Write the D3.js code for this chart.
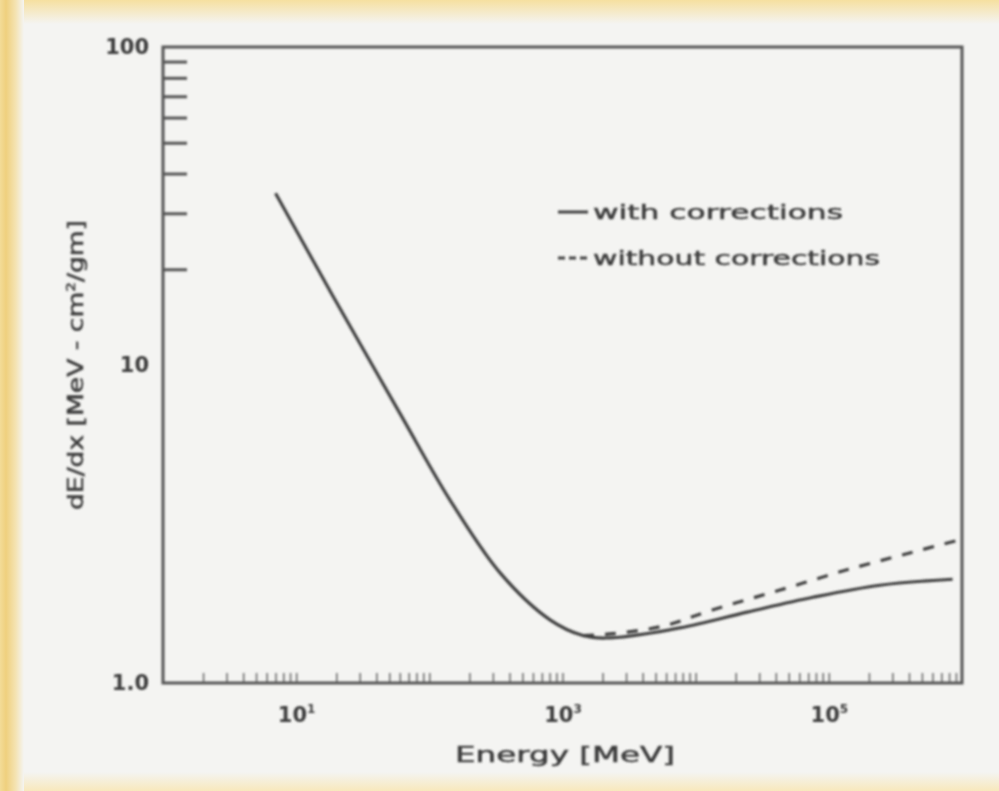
<!DOCTYPE html>
<html>
<head>
<meta charset="utf-8">
<script src="https://cdn.jsdelivr.net/npm/d3@7"></script>
<style>
body { margin: 0; background: #f4f4f2; }
svg text { font-family: "DejaVu Sans", sans-serif; fill: #3c3c3c; }
</style>
</head>
<body>
<svg id="chart" width="999" height="791"></svg>
<script>
// values
let energyWith = [7, 19, 60, 143, 340, 806, 1425, 2100, 7600, 24300, 76000, 242000, 850000],
    dedxWith = [34.7, 16.4, 7.06, 3.76, 2.22, 1.58, 1.41, 1.385, 1.49, 1.67, 1.86, 2.03, 2.12],
    energyWithout = [1425, 2400, 5680, 13500, 43000, 137000, 428000, 900000],
    dedxWithout = [1.41, 1.43, 1.51, 1.70, 1.96, 2.27, 2.58, 2.80],
    xLabels = [10, 1000, 100000],
    yLabels = [1, 10, 100],
    legendLabels = ['with corrections', 'without corrections'];

let svg = d3.select('#chart'),
    margin = {top: 47, right: 37, bottom: 108, left: 163},
    width = 999 - margin.left - margin.right,
    height = 791 - margin.top - margin.bottom;

// scan-like paper edges
let defs = svg.append('defs');
let lg = defs.append('linearGradient').attr('id', 'edgeL');
lg.append('stop').attr('offset', '0%').attr('stop-color', '#f3dc98');
lg.append('stop').attr('offset', '25%').attr('stop-color', '#efd07e');
lg.append('stop').attr('offset', '65%').attr('stop-color', '#f4e3b2');
lg.append('stop').attr('offset', '100%').attr('stop-color', '#f4f4f2', 0);
let tg = defs.append('linearGradient').attr('id', 'edgeT').attr('x2', 0).attr('y2', 1);
tg.append('stop').attr('offset', '0%').attr('stop-color', '#f6e0a0');
tg.append('stop').attr('offset', '100%').attr('stop-color', '#f4f4f2');
let bg = defs.append('linearGradient').attr('id', 'edgeB').attr('x2', 0).attr('y2', 1);
bg.append('stop').attr('offset', '0%').attr('stop-color', '#f4f4f2');
bg.append('stop').attr('offset', '100%').attr('stop-color', '#f8e8bc');
defs.append('filter').attr('id', 'soft')
    .append('feGaussianBlur').attr('stdDeviation', 0.8);

svg.append('rect').attr('width', 999).attr('height', 791).attr('fill', '#f4f4f2');
svg.append('rect').attr('width', 999).attr('height', 24).attr('fill', 'url(#edgeT)');
svg.append('rect').attr('y', 772).attr('width', 999).attr('height', 19).attr('fill', 'url(#edgeB)');
svg.append('rect').attr('width', 24).attr('height', 791).attr('fill', 'url(#edgeL)');

let g = svg.append('g')
    .attr('transform', `translate(${margin.left},${margin.top})`)
    .attr('filter', 'url(#soft)');

let x = d3.scaleLog().domain([1, 1e6]).range([0, width]),
    y = d3.scaleLog().domain([1, 100]).range([height, 0]);

// minor ticks, pointing inwards
let xMinor = g.append('g')
    .attr('transform', `translate(0,${height})`)
    .call(d3.axisBottom(x).tickValues(x.ticks().filter(d => d > 1 && d < 1e6)).tickSize(-10).tickFormat(''));
xMinor.select('.domain').remove();
xMinor.selectAll('line').attr('stroke', '#666').attr('stroke-width', 1.5);

let yMinor = g.append('g')
    .call(d3.axisLeft(y).tickValues(y.ticks().filter(d => d > 10 && d < 100)).tickSize(-24).tickFormat(''));
yMinor.select('.domain').remove();
yMinor.selectAll('line').attr('stroke', '#555').attr('stroke-width', 3);

// labels
let xAxis = g.append('g')
    .attr('transform', `translate(0,${height})`)
    .call(d3.axisBottom(x).tickValues(xLabels).tickSize(0).tickFormat(''));
xAxis.select('.domain').remove();
xAxis.selectAll('.tick text')
    .attr('y', 39).attr('dy', 0)
    .style('font-size', '21px').style('font-weight', 'bold')
    .each(function(d) {
        let t = d3.select(this);
        t.append('tspan').text('10');
        t.append('tspan').attr('dy', -9).style('font-size', '12px').text(Math.round(Math.log10(d)));
    });

let yAxis = g.append('g')
    .call(d3.axisLeft(y).tickValues(yLabels).tickSize(0).tickPadding(14)
        .tickFormat(d => d === 1 ? '1.0' : d3.format('d')(d)));
yAxis.select('.domain').remove();
yAxis.selectAll('.tick text').style('font-size', '21px').style('font-weight', 'bold');

// frame
g.append('rect')
    .attr('width', width).attr('height', height)
    .attr('fill', 'none').attr('stroke', '#555').attr('stroke-width', 3);

// curves
let line = d3.line()
    .x(d => x(d[0]))
    .y(d => y(d[1]))
    .curve(d3.curveCatmullRom.alpha(0.5));

g.append('path')
    .datum(d3.zip(energyWithout, dedxWithout))
    .attr('d', line)
    .attr('fill', 'none').attr('stroke', '#404040').attr('stroke-width', 3.2)
    .attr('stroke-dasharray', '11,11');

g.append('path')
    .datum(d3.zip(energyWith, dedxWith))
    .attr('d', line)
    .attr('fill', 'none').attr('stroke', '#404040').attr('stroke-width', 3.2);

// axis titles
g.append('text')
    .attr('x', 402).attr('y', 715)
    .attr('text-anchor', 'middle')
    .attr('textLength', 220).attr('lengthAdjust', 'spacingAndGlyphs')
    .style('font-size', '21px').style('stroke', '#3c3c3c').style('stroke-width', 0.5)
    .text('Energy [MeV]');

g.append('text')
    .attr('transform', `translate(-80,${318}) rotate(-90)`)
    .attr('text-anchor', 'middle')
    .attr('textLength', 290).attr('lengthAdjust', 'spacingAndGlyphs')
    .style('font-size', '21px').style('stroke', '#3c3c3c').style('stroke-width', 0.5)
    .text('dE/dx [MeV - cm')
    .append('tspan').attr('dy', -8).style('font-size', '12px').text('2')
    .select(function() { return this.parentNode; })
    .append('tspan').attr('dy', 8).text('/gm]');

// legend
let legend = g.append('g').attr('transform', 'translate(395,165)');
legend.selectAll('text')
    .data(legendLabels)
    .enter()
    .append('text')
    .attr('x', 35)
    .attr('y', (d, i) => i * 46 + 7)
    .attr('textLength', (d, i) => i ? 287 : 250)
    .attr('lengthAdjust', 'spacingAndGlyphs')
    .style('font-size', '20px').style('stroke', '#3c3c3c').style('stroke-width', 0.5)
    .text(d => d);
legend.selectAll('line')
    .data(legendLabels)
    .enter()
    .append('line')
    .attr('x1', 0).attr('x2', 30)
    .attr('y1', (d, i) => i * 46).attr('y2', (d, i) => i * 46)
    .attr('stroke', '#404040').attr('stroke-width', 3)
    .attr('stroke-dasharray', (d, i) => i ? '7,4' : null);
</script>
</body>
</html>
